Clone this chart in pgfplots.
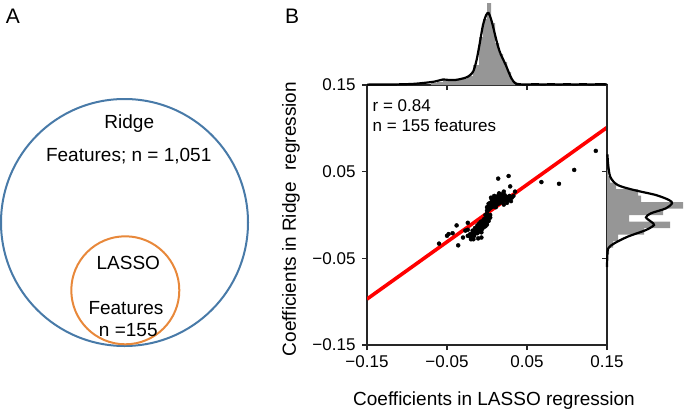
\documentclass[border=0pt]{standalone}
\usepackage{pgfplots}
\pgfplotsset{compat=1.18}
\usepackage{fontspec}
\setmainfont{Liberation Sans}
\definecolor{vennblue}{RGB}{72,122,168}
\definecolor{vennorange}{RGB}{232,136,58}
\definecolor{histgray}{RGB}{150,150,150}
\newcommand{\fs}[1]{\fontsize{#1bp}{#1bp}\selectfont}
\begin{document}
\begin{tikzpicture}
\useasboundingbox (0,0) rectangle (685bp,-411bp);
% ---------- Panel A ----------
\node[font=\fs{21}] at (13bp,-16bp) {A};
\draw[vennblue, line width=2bp] (124.5bp,-222.5bp) circle (123.5bp);
\draw[vennorange, line width=2bp] (125.3bp,-290.3bp) circle (54bp);
\node[font=\fs{19}] at (129.3bp,-124bp) {Ridge};
\node[font=\fs{19}] at (128.7bp,-156bp) {Features; n = 1,051};
\node[font=\fs{19}] at (128.3bp,-263bp) {LASSO};
\node[font=\fs{19}] at (126bp,-308.5bp) {Features};
\node[font=\fs{19}] at (128.3bp,-330bp) {n =155};
% ---------- Panel B ----------
\node[font=\fs{21}] at (292bp,-16bp) {B};
\begin{axis}[
  at={(367bp,-345bp)}, anchor=south west,
  scale only axis, width=240bp, height=260bp,
  xmin=-0.15, xmax=0.15, ymin=-0.15, ymax=0.15,
  xtick={-0.15,-0.05,0.05,0.15},
  ytick={-0.15,-0.05,0.05,0.15},
  xticklabels={−0.15,−0.05,0.05,0.15},
  yticklabels={−0.15,−0.05,0.05,0.15},
  xtick pos=bottom, ytick pos=left,
  tick align=outside, major tick length=5bp,
  tick style={black!85, line width=1.1bp},
  axis line style={black!85, line width=1.1bp},
  tick label style={font=\fs{17}},
  yticklabel style={xshift=-3bp},
  xticklabel style={yshift=-2bp},
]
\addplot[red, line width=3.6bp] coordinates {(-0.15,-0.097) (0.15,0.101)};
\addplot[only marks, mark=*, mark size=2pt, black] coordinates {
(0.000,0.005)(0.000,0.009)(0.002,0.006)(0.002,0.010)(0.002,0.013)
(0.004,0.008)(0.004,0.011)(0.004,0.014)(0.006,0.009)(0.006,0.012)(0.006,0.015)(0.006,0.018)
(0.008,0.010)(0.008,0.013)(0.008,0.016)(0.008,0.019)(0.010,0.011)(0.010,0.014)(0.010,0.017)(0.010,0.020)
(0.012,0.012)(0.012,0.015)(0.012,0.018)(0.012,0.021)(0.014,0.013)(0.014,0.016)(0.014,0.019)(0.014,0.022)
(0.016,0.014)(0.016,0.017)(0.016,0.020)(0.016,0.023)(0.018,0.015)(0.018,0.018)(0.018,0.021)(0.018,0.024)
(0.020,0.016)(0.020,0.019)(0.020,0.022)(0.022,0.017)(0.022,0.020)(0.022,0.023)
(0.024,0.018)(0.024,0.021)(0.026,0.017)(0.026,0.020)(0.028,0.019)(0.028,0.022)
(0.031,0.020)(0.033,0.022)(0.035,0.027)(0.009,0.022)(0.015,0.025)(0.021,0.012)
(0.025,0.014)(0.030,0.016)(0.005,0.020)(0.011,0.009)
(-0.024,-0.024)(-0.021,-0.022)(-0.021,-0.025)(-0.018,-0.018)(-0.018,-0.021)(-0.018,-0.024)
(-0.015,-0.015)(-0.015,-0.018)(-0.015,-0.021)(-0.012,-0.012)(-0.012,-0.015)(-0.012,-0.018)(-0.012,-0.021)
(-0.010,-0.010)(-0.010,-0.013)(-0.010,-0.016)(-0.010,-0.019)(-0.008,-0.008)(-0.008,-0.011)(-0.008,-0.014)(-0.008,-0.017)
(-0.006,-0.007)(-0.006,-0.010)(-0.006,-0.013)(-0.006,-0.016)(-0.004,-0.005)(-0.004,-0.008)(-0.004,-0.011)(-0.004,-0.014)
(-0.002,-0.004)(-0.002,-0.007)(-0.002,-0.010)(-0.002,-0.013)(0.000,-0.002)(0.000,-0.005)(0.000,-0.008)(0.000,-0.011)
(0.002,-0.001)(0.002,-0.004)(0.002,-0.007)(0.004,0.000)(0.004,-0.003)(0.000,0.002)(-0.002,0.000)
(-0.024,-0.017)(-0.016,-0.024)(-0.007,-0.020)
(-0.060,-0.033)(-0.050,-0.024)(-0.048,-0.022)(-0.038,-0.012)(-0.024,-0.009)
(-0.036,-0.035)(-0.030,-0.026)(-0.043,-0.021)(-0.020,-0.028)(-0.017,-0.028)
(-0.011,-0.027)(-0.007,-0.026)(-0.027,-0.018)
(0.136,0.074)(0.109,0.052)(0.090,0.036)(0.068,0.038)(0.027,0.045)(0.014,0.042)
(0.029,0.033)(0.021,0.027)
};
\draw[black!85, line width=1.1bp] (rel axis cs:1,0) -- (rel axis cs:1,1);
\draw[black!85, line width=1.1bp] (rel axis cs:0,1) -- (rel axis cs:1,1);
\end{axis}
\node[font=\fs{17}, anchor=base west, inner sep=0] at (372.5bp,-111bp) {r = 0.84};
\node[font=\fs{17}, anchor=base west, inner sep=0] at (372.5bp,-131bp) {n = 155 features};
\node[font=\fs{19}] at (494bp,-401bp) {Coefficients in LASSO regression};
\node[font=\fs{19}, rotate=90] at (291bp,-219bp) {Coefficients in Ridge\hspace{0.6em}regression};
% ---------- top marginal ----------
\begin{axis}[
  at={(367bp,-85bp)}, anchor=south west,
  scale only axis, width=240bp, height=85bp,
  xmin=-0.15, xmax=0.15, ymin=0, ymax=85,
  axis x line*=bottom, axis y line=none,
  xtick={-0.05,0.05}, xticklabels={}, ytick=\empty,
  tick align=outside, major tick length=5bp,
  tick style={black!85, line width=1.1bp},
  axis line style={black!85, line width=1.1bp},
  clip=false,
]
\addplot[ybar interval, fill=histgray, draw=none] coordinates {
(-0.0700,2)(-0.0625,3)(-0.0550,5)(-0.0475,4)(-0.0400,5)(-0.0325,6)(-0.0250,9)
(-0.0175,20)(-0.0100,48)(-0.0050,66)(0.0000,82)(0.0050,62)(0.0100,42)(0.0150,31)
(0.0200,23)(0.0250,13)(0.0300,4)(0.0350,0)};
\addplot[black, line width=2.2bp, smooth] coordinates {
(-0.150,0.4)(-0.120,0.5)(-0.095,1)(-0.080,2)(-0.065,3.5)(-0.055,5.5)(-0.048,5)(-0.040,5)
(-0.033,6)(-0.026,7.5)(-0.021,10)(-0.017,14)(-0.013,25)(-0.009,42)(-0.005,60)
(-0.001,70)(0.002,72)(0.005,66)(0.008,57)(0.011,47)(0.014,38)(0.017,31)(0.0205,25)
(0.024,19)(0.027,13)(0.031,6)(0.035,2)(0.040,0.8)(0.050,0.5)(0.060,0.8)(0.070,0.5)
(0.080,0.8)(0.090,0.5)(0.100,0.8)(0.110,0.5)(0.120,0.8)(0.130,0.5)(0.140,0.8)(0.150,0.6)};
\end{axis}
% ---------- right marginal ----------
\begin{axis}[
  at={(607bp,-345bp)}, anchor=south west,
  scale only axis, width=78bp, height=260bp,
  xmin=0, xmax=78, ymin=-0.15, ymax=0.15,
  axis y line*=left, axis x line=none,
  ytick={-0.05,0.05}, yticklabels={}, xtick=\empty,
  tick align=outside, major tick length=5bp,
  tick style={black!85, line width=1.1bp},
  axis line style={black!85, line width=1.1bp},
  clip=false,
]
\addplot[xbar interval, fill=histgray, draw=none] coordinates {
(2,-0.0450)(6,-0.0375)(11,-0.0300)(37,-0.0225)(63,-0.0150)(22,-0.0075)(56,0.0000)
(76,0.0075)(34,0.0150)(31,0.0225)(9,0.0300)(3,0.0375)(1,0.0450)(0,0.0525)};
\addplot[black, line width=2.2bp, smooth] coordinates {
(0.5,0.070)(1,0.060)(3.3,0.044)(10.7,0.0346)(27,0.0288)(49,0.023)(62,0.0173)(65,0.0135)
(59,0.0077)(44,0.002)(39,-0.0027)(44,-0.0077)(47,-0.0115)(39,-0.0173)(20.7,-0.025)
(7.3,-0.0327)(1.3,-0.0384)(0.3,-0.048)(0,-0.060)};
\end{axis}
\end{tikzpicture}
\end{document}
